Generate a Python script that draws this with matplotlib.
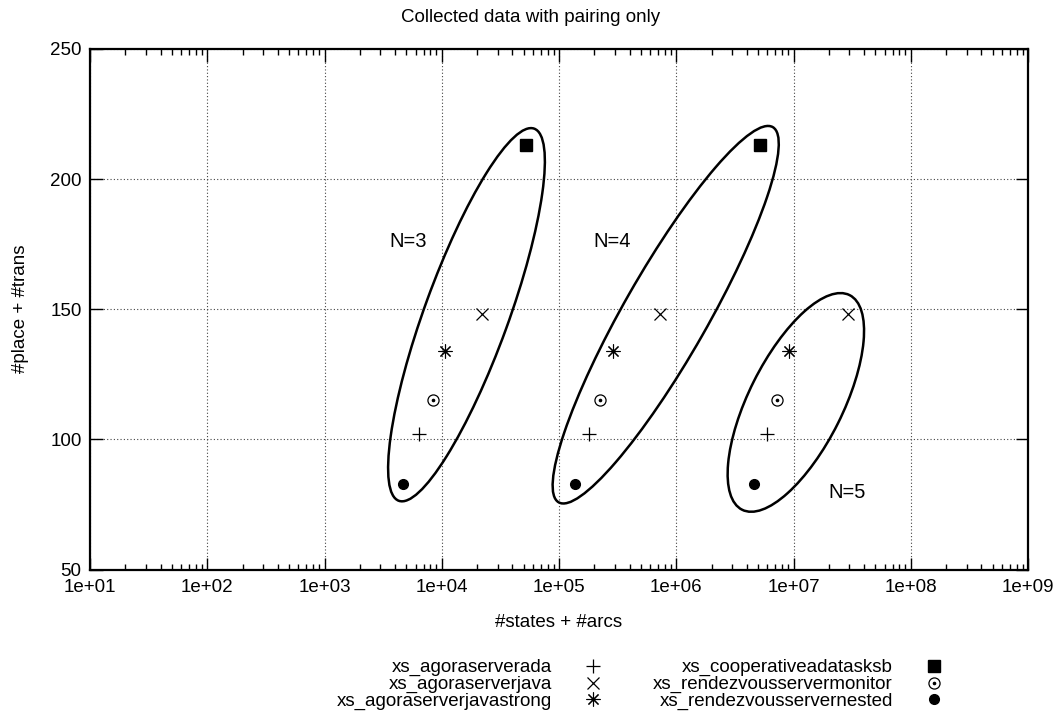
import numpy as np
import matplotlib
matplotlib.use("Agg")
import matplotlib.pyplot as plt
from matplotlib import transforms
from matplotlib.patches import Ellipse
from matplotlib.legend_handler import HandlerTuple
from matplotlib.ticker import LogLocator, NullFormatter

plt.rcParams['font.family'] = ['Liberation Sans', 'DejaVu Sans']
plt.rcParams['font.size'] = 13.5

BLACK = "#000000"
GRID = "#444444"

# series, same order everywhere
SERIES = [
    'xs_agoraserverada',
    'xs_agoraserverjava',
    'xs_agoraserverjavastrong',
    'xs_cooperativeadatasksb',
    'xs_rendezvousservermonitor',
    'xs_rendezvousservernested',
]
PLACE_TRANS = [102, 148, 134, 213, 115, 83]
STATES_N3 = [6.4e3, 2.2e4, 1.07e4, 5.25e4, 8.4e3, 4.7e3]
STATES_N4 = [1.8e5, 7.2e5, 2.9e5, 5.2e6, 2.25e5, 1.37e5]
STATES_N5 = [5.9e6, 2.9e7, 9.1e6, np.nan, 7.2e6, 4.6e6]

XTICKS = [1e1, 1e2, 1e3, 1e4, 1e5, 1e6, 1e7, 1e8, 1e9]
XTICK_LABELS = ['1e+01', '1e+02', '1e+03', '1e+04', '1e+05', '1e+06', '1e+07', '1e+08', '1e+09']
YTICKS = [50, 100, 150, 200, 250]

# group annotations: label, label position, ellipse centre (data), semi axes (px), angle
GROUP_LABELS = ['N=3', 'N=4', 'N=5']
GROUP_LABEL_X = [5.2e3, 2.83e5, 2.85e7]
GROUP_LABEL_Y = [176, 176, 79.6]
ELLIPSE_X = [10 ** 4.211, 10 ** 5.91, 10 ** 7.02]
ELLIPSE_Y = [147.9, 147.9, 114.2]
ELLIPSE_A = [198, 216, 120]
ELLIPSE_B = [42, 42, 47]
ELLIPSE_ANGLE = [70.0, 60.3, 63.4]

DPI = 100
fig = plt.figure(figsize=(10.61, 7.11), dpi=DPI)
ax = fig.add_axes([90 / 1061, 1 - 569.5 / 711, 938 / 1061, 520.5 / 711])

marker_kw = [
    dict(marker='+', ms=10, mew=0.9, color=BLACK),
    dict(marker='x', ms=8, mew=0.9, color=BLACK),
    dict(marker=(8, 2, 0), ms=10, mew=0.8, color=BLACK),
    dict(marker='s', ms=8, color=BLACK),
    dict(marker='o', ms=8, mew=0.9, mfc='none', mec=BLACK),
    dict(marker='o', ms=7, color=BLACK),
]

handles = []
for i, name in enumerate(SERIES):
    xs = [STATES_N3[i], STATES_N4[i], STATES_N5[i]]
    ys = [PLACE_TRANS[i]] * 3
    line, = ax.plot(xs, ys, ls='none', label=name, zorder=4, **marker_kw[i])
    if name == 'xs_rendezvousservermonitor':
        # gnuplot's open circle has a dot in the middle
        dot, = ax.plot(xs, ys, ls='none', marker='o', ms=1.6, color=BLACK, zorder=5)
        handles.append((line, dot))
    else:
        handles.append(line)

# ellipses drawn in pixel space around a data-space centre
for i in range(len(GROUP_LABELS)):
    trans = fig.dpi_scale_trans + transforms.ScaledTranslation(ELLIPSE_X[i], ELLIPSE_Y[i], ax.transData)
    ell = Ellipse((0, 0), 2 * ELLIPSE_A[i] / DPI, 2 * ELLIPSE_B[i] / DPI, angle=ELLIPSE_ANGLE[i],
                  transform=trans, fill=False, edgecolor=BLACK, linewidth=1.8, zorder=3)
    ax.add_patch(ell)
    ax.text(GROUP_LABEL_X[i], GROUP_LABEL_Y[i], GROUP_LABELS[i], ha='center', va='center', fontsize=14.5)

ax.set_xscale('log')
ax.set_xlim(1e1, 1e9)
ax.set_ylim(50, 250)
ax.set_xticks(XTICKS)
ax.set_xticklabels(XTICK_LABELS)
ax.xaxis.set_minor_locator(LogLocator(base=10, subs=np.arange(2, 10)))
ax.xaxis.set_minor_formatter(NullFormatter())
ax.set_yticks(YTICKS)

ax.tick_params(which='major', direction='in', top=True, right=True, length=9, width=1.0, pad=7)
ax.tick_params(which='minor', direction='in', top=True, right=True, length=4.5, width=1.0)
ax.tick_params(axis='y', pad=6)
ax.grid(which='major', linestyle=(0, (1, 2)), color=GRID, linewidth=0.8)
for spine in ax.spines.values():
    spine.set_linewidth(1.6)

ax.set_xlabel('#states + #arcs', labelpad=13)
ax.set_ylabel('#place + #trans', labelpad=15)
fig.text(0.5, 1 - 17 / 711, 'Collected data with pairing only', ha='center', va='center')

# key: two columns, text right aligned, marker on the right
key_kw = dict(loc='upper right', frameon=False, markerfirst=False, handlelength=2.0,
              handletextpad=1.2, labelspacing=-0.02, borderpad=0, borderaxespad=0,
              handler_map={tuple: HandlerTuple(ndivide=1)})
fig.legend(handles[:3], SERIES[:3], bbox_to_anchor=(612 / 1061, 1 - 659 / 711), **key_kw)
fig.legend(handles[3:], SERIES[3:], bbox_to_anchor=(953 / 1061, 1 - 659 / 711), **key_kw)

fig.savefig('out.png', dpi=DPI)
